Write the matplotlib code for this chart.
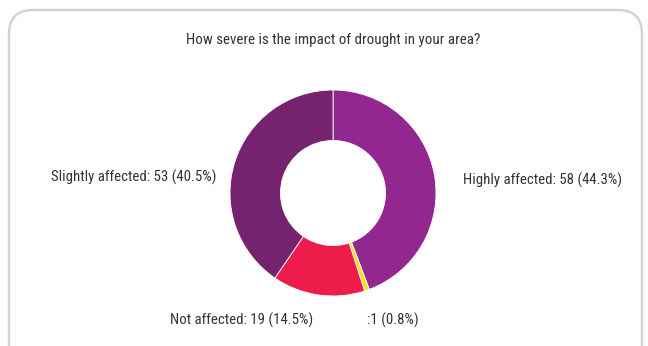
import matplotlib
matplotlib.use("agg")
import matplotlib.pyplot as plt
from matplotlib.patches import FancyBboxPatch

title = "How severe is the impact of drought in your area?"
categories = ["Highly affected", "", "Not affected", "Slightly affected"]
counts = [58, 1, 19, 53]
percents = [44.3, 0.8, 14.5, 40.5]
colors = ["#92278f", "#f4e11c", "#ed1c4b", "#75236f"]

plt.rcParams["font.family"] = ["Roboto Condensed", "DejaVu Sans"]

W, H = 648, 346
fig = plt.figure(figsize=(W / 100, H / 100), dpi=100)
ax = fig.add_axes([0, 0, 1, 1])

# card outline, bottom edge runs off the image
card = FancyBboxPatch((9, -40), 633, 376, boxstyle="round,pad=0,rounding_size=24",
                      facecolor="white", edgecolor="#d4d4d4", linewidth=1.8)
ax.add_patch(card)

cx, cy, r = 333, H - 193, 103
ax.pie(counts, colors=colors, startangle=90, counterclock=False,
       center=(cx, cy), radius=r, frame=True,
       wedgeprops=dict(width=r * 0.49, edgecolor="white", linewidth=0.6))
ax.set_xlim(0, W)
ax.set_ylim(0, H)
ax.set_aspect("equal")
ax.axis("off")

ax.text(cx, H - 40, title, ha="center", va="center", fontsize=10.8, color="#333333")

def label(i):
    return f"{categories[i]}:{' ' if categories[i] else ''}{counts[i]} ({percents[i]}%)"

txt = dict(fontsize=10.75, color="#333333", va="center")
ax.text(463, H - 180, label(0), ha="left", **txt)
ax.text(367, H - 320, label(1), ha="left", **txt)
ax.text(313, H - 320, label(2), ha="right", **txt)
ax.text(216, H - 177, label(3), ha="right", **txt)

fig.savefig("out.png", dpi=100)
